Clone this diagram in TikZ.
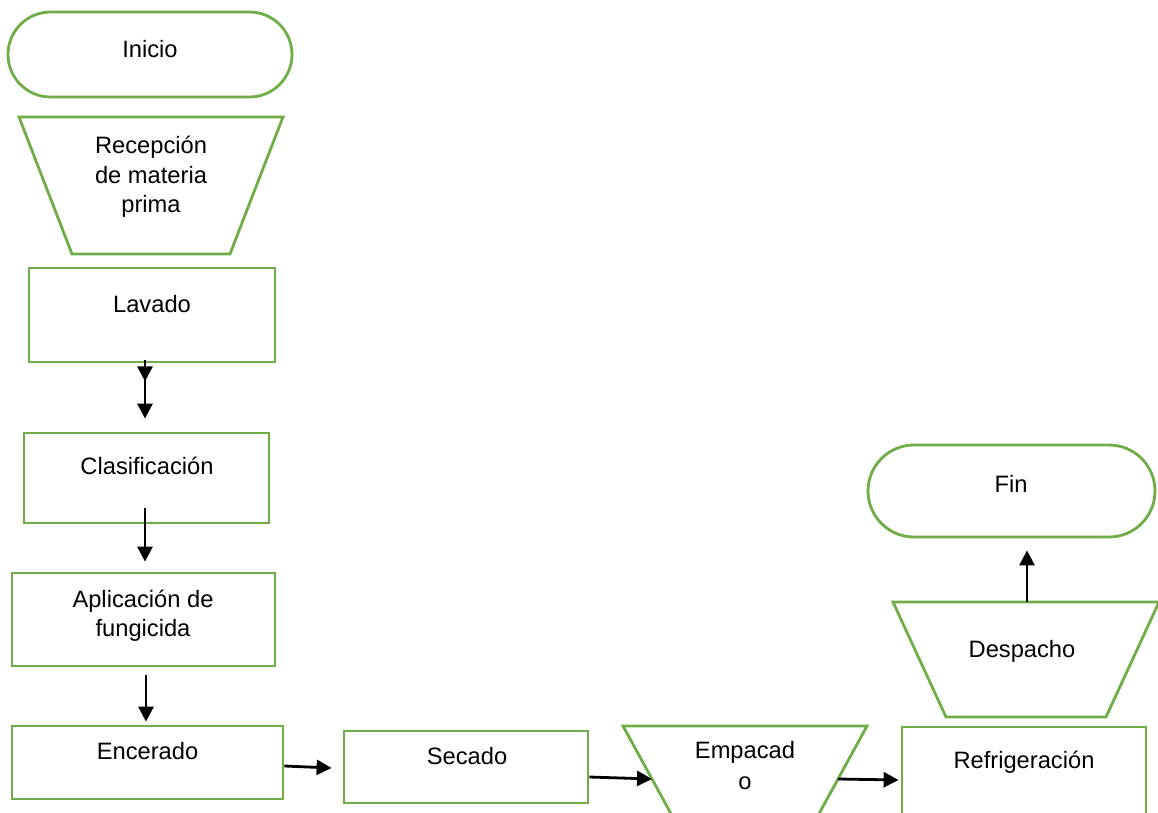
\documentclass[tikz,border=0pt]{standalone}
\usepackage{fontspec}
\setmainfont{Liberation Sans}
\usetikzlibrary{arrows.meta,calc}
\definecolor{fgreen}{HTML}{70AD47}
\begin{document}
\begin{tikzpicture}[x=1pt,y=-1pt,
  shapeline/.style={draw=fgreen,line width=2.8pt},
  box/.style={shapeline,inner sep=0pt},
  term/.style={box,rounded corners=#1},
  txt/.style={anchor=base,inner sep=0pt,font=\fontsize{23.7}{29}\selectfont},
  arr/.style={draw=black,line width=2.8pt,-{Triangle[length=15pt,width=15pt]}}]
\useasboundingbox (0,0) rectangle (1158,813);
\clip (0,0) rectangle (1158,813);

% Inicio
\node[term=42.5pt, minimum width=284pt, minimum height=85pt] (inicio) at (150,54.5) {};
\node[txt] (inicioT) at (150,58) {Inicio};

% Recepcion (trapezoid)
\coordinate (rec-tl) at (19,117);
\coordinate (rec-tr) at (283,117);
\coordinate (rec-br) at (230,254);
\coordinate (rec-bl) at (72,254);
\draw[shapeline] (rec-tl) -- (rec-tr) -- (rec-br) -- (rec-bl) -- cycle;
\node[txt] (rec1) at (151,154) {Recepción};
\node[txt] (rec2) at (151,183) {de materia};
\node[txt] (rec3) at (151,212) {prima};

% Lavado
\node[box, minimum width=246pt, minimum height=94pt] (lavado) at (152,315) {};
\node[txt] (lavT) at (152,312) {Lavado};

% Clasificacion
\node[box, minimum width=245pt, minimum height=90pt] (clas) at (146.5,478) {};
\node[txt] (clasT) at (147,474) {Clasificación};

% Aplicacion de fungicida
\node[box, minimum width=263pt, minimum height=93pt] (apl) at (143.5,619.5) {};
\node[txt] (apl1) at (143,607) {Aplicación de};
\node[txt] (apl2) at (143,636) {fungicida};

% Encerado
\node[box, minimum width=271pt, minimum height=73pt] (enc) at (147.5,762.5) {};
\node[txt] (encT) at (147.5,759) {Encerado};

% Secado
\node[box, minimum width=244pt, minimum height=72pt] (sec) at (466,767) {};
\node[txt] (secT) at (467,764) {Secado};

% Empacado (inverted trapezoid, clipped)
\coordinate (emp-tl) at (623,726);
\coordinate (emp-tr) at (867,726);
\coordinate (emp-br) at (809,832);
\coordinate (emp-bl) at (681,832);
\draw[shapeline] (emp-tl) -- (emp-tr) -- (emp-br) -- (emp-bl) -- cycle;
\node[txt] (emp1) at (745,758) {Empacad};
\node[txt] (emp2) at (745,789) {o};

% Refrigeracion
\node[box, minimum width=244pt, minimum height=106pt] (ref) at (1024,780) {};
\node[txt] (refT) at (1024,768) {Refrigeración};

% Despacho
\coordinate (desp-tl) at (893,602);
\coordinate (desp-tr) at (1159,602);
\coordinate (desp-br) at (1106,717);
\coordinate (desp-bl) at (946,717);
\coordinate (desp-top) at (1027,602);
\draw[shapeline] (desp-tl) -- (desp-tr) -- (desp-br) -- (desp-bl) -- cycle;
\node[txt] (despT) at (1022,657) {Despacho};

% Fin
\node[term=46pt, minimum width=287pt, minimum height=92pt] (fin) at (1011.5,491) {};
\node[txt] (finT) at (1011,492) {Fin};

% Connectors
\draw[arr] ($(lavado.south)+(-7,-3)$) -- ($(clas.north)+(-1.5,-13)$);
\draw[arr] ($(lavado.south)+(-7,-3)$) -- ($(lavado.south)+(-7,18)$);
\draw[arr] ($(clas.south)+(-1.5,-16)$) -- ($(apl.north)+(1.5,-10)$);
\draw[arr] ($(apl.south)+(2.5,8)$) -- ($(enc.north)+(-1.5,-3)$);
\draw[arr] ($(enc.east)+(0,3.5)$) -- ($(sec.west)+(-11,1)$);
\draw[arr] ($(sec.east)+(0,10)$) -- ($(emp-tl)!0.5!(emp-bl)$);
\draw[arr] ($(emp-tr)!0.5!(emp-br)$) -- ($(ref.west)+(-2,0)$);
\draw[arr] (desp-top) -- ($(fin.south)+(15.5,12)$);
\end{tikzpicture}
\end{document}
